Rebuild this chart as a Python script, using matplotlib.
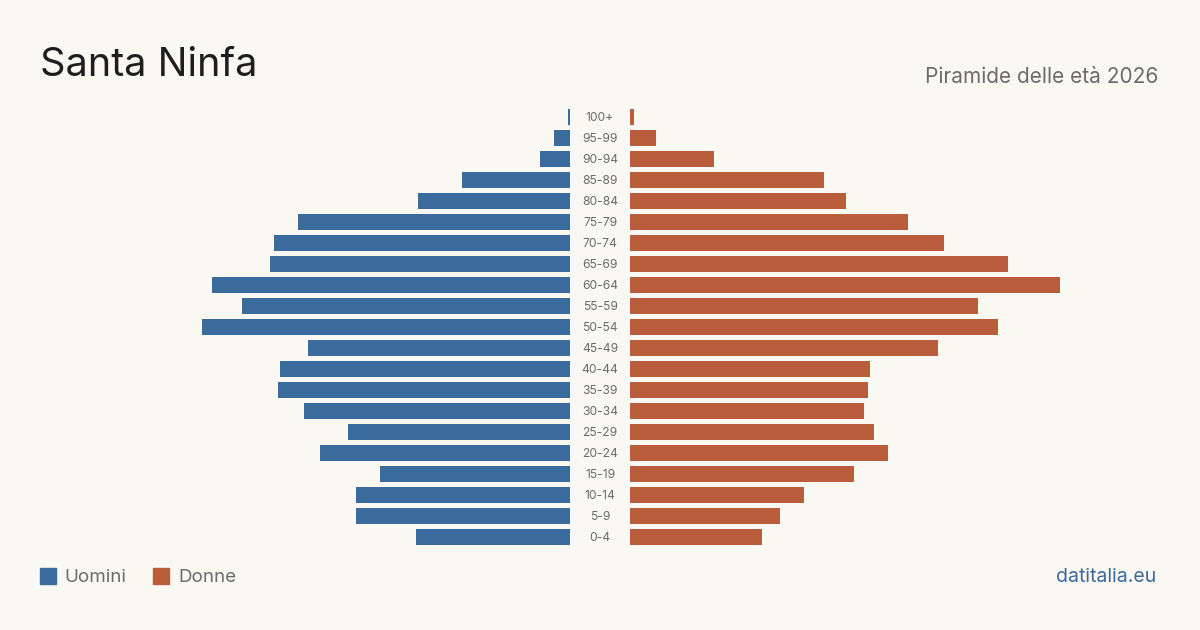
import matplotlib
matplotlib.use("Agg")
import matplotlib.pyplot as plt
from matplotlib.patches import Rectangle

plt.rcParams['font.family'] = ['Inter', 'DejaVu Sans']

age_groups = ["0-4", "5-9", "10-14", "15-19", "20-24", "25-29", "30-34", "35-39",
              "40-44", "45-49", "50-54", "55-59", "60-64", "65-69", "70-74", "75-79",
              "80-84", "85-89", "90-94", "95-99", "100+"]
men = [77, 107, 107, 95, 125, 111, 133, 146, 145, 131, 184, 164, 179, 150, 148, 136,
       76, 54, 15, 8, 1]
women = [66, 75, 87, 112, 129, 122, 117, 119, 120, 154, 184, 174, 215, 189, 157, 139,
         108, 97, 42, 13, 2]

title = "Santa Ninfa"
subtitle = "Piramide delle età 2026"
source = "datitalia.eu"

BG = "#f9f8f3"
BLUE = "#3b6b9c"
ORANGE = "#b95d3d"
GRAY = "#6b6b6b"

W, H = 1200, 630
fig = plt.figure(figsize=(12, 6.3), dpi=100, facecolor=BG)

top_px, bot_px = 106.5, 547.5
xmax = 215
left_ax = fig.add_axes([140 / W, 1 - bot_px / H, 430 / W, (bot_px - top_px) / H])
right_ax = fig.add_axes([630 / W, 1 - bot_px / H, 430 / W, (bot_px - top_px) / H])

ypos = list(range(len(age_groups)))
left_ax.barh(ypos, men, height=0.8, color=BLUE)
right_ax.barh(ypos, women, height=0.8, color=ORANGE)
left_ax.set_xlim(xmax, 0)
right_ax.set_xlim(0, xmax)
for ax in (left_ax, right_ax):
    ax.set_ylim(-0.5, len(age_groups) - 0.5)
    ax.axis("off")

# age labels centred in the gap between the two halves
for y, lab in zip(ypos, age_groups):
    right_ax.text(-15, y - 0.04, lab, ha="center", va="center", fontsize=8.7,
                  color=GRAY, clip_on=False)

fig.text(40 / W, 1 - 66 / H, title, fontsize=28.5, color="#1e1e1e", ha="left", va="center")
fig.text(1158 / W, 1 - 77 / H, subtitle, fontsize=15, color=GRAY, ha="right", va="center")

fig.patches.append(Rectangle((40 / W, 1 - 584 / H), 16 / W, 16 / H,
                             transform=fig.transFigure, color=BLUE))
fig.text(64 / W, 1 - 577.5 / H, "Uomini", fontsize=13.5, color=GRAY, ha="left", va="center")
fig.patches.append(Rectangle((153 / W, 1 - 584 / H), 16 / W, 16 / H,
                             transform=fig.transFigure, color=ORANGE))
fig.text(178 / W, 1 - 577.5 / H, "Donne", fontsize=13.5, color=GRAY, ha="left", va="center")

fig.text(1156 / W, 1 - 577.5 / H, source, fontsize=14, color=BLUE, ha="right", va="center")

fig.savefig("out.png", dpi=100, facecolor=BG)
